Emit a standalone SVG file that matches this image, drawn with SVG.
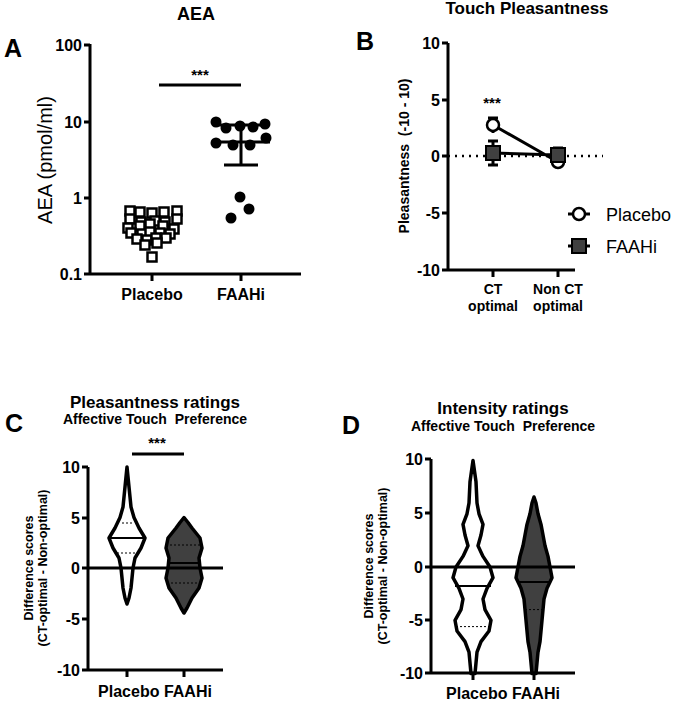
<svg xmlns="http://www.w3.org/2000/svg" width="675" height="704" viewBox="0 0 675 704">
<style>
text{font-family:"Liberation Sans",Arial,sans-serif;font-weight:bold;fill:#000}
.ax{stroke:#000;stroke-width:3;fill:none}
.tk{font-size:16px;text-anchor:end}
.lb{font-size:14px;text-anchor:middle}
.big{font-size:25px}
.tt{font-size:17px;text-anchor:middle}
.st{font-size:14px;text-anchor:middle}
.sq{fill:#fff;stroke:#000;stroke-width:2.5}
.vi{stroke:#000;stroke-width:3.5;stroke-linejoin:round}
.med{stroke:#000;stroke-width:2}
.q{stroke:#000;stroke-width:1;stroke-dasharray:2,2}
</style>
<rect width="675" height="704" fill="#fff"/>
<g id="panelA">
<text x="196" y="20" class="tt" style="font-size:18px">AEA</text>
<text x="4" y="57" class="big">A</text>
<path class="ax" d="M90,44V274H301M84,45H90M84,122H90M84,198H90M84,274H90M152,274V281M241,274V281"/>
<g class="tk"><text x="82" y="51">100</text><text x="82" y="128">10</text><text x="82" y="204">1</text><text x="82" y="280">0.1</text></g>
<text x="152" y="300" class="lb" style="font-size:16px">Placebo</text>
<text x="241" y="300" class="lb" style="font-size:16px">FAAHi</text>
<text transform="translate(52,160) rotate(-90)" style="font-size:20px;font-weight:normal;text-anchor:middle">AEA (pmol/ml)</text>
<path class="ax" d="M159,85H241"/>
<text x="200" y="80" class="lb" style="font-size:15px">***</text>
<g>
<rect class="sq" x="125.5" y="206.5" width="9" height="9"/><rect class="sq" x="135.5" y="207.5" width="9" height="9"/><rect class="sq" x="147.5" y="208.5" width="9" height="9"/><rect class="sq" x="159.5" y="207.5" width="9" height="9"/><rect class="sq" x="172.5" y="206.5" width="9" height="9"/>
<rect class="sq" x="125.5" y="214.5" width="9" height="9"/><rect class="sq" x="136.5" y="217.5" width="9" height="9"/><rect class="sq" x="150.5" y="216.5" width="9" height="9"/><rect class="sq" x="160.5" y="217.5" width="9" height="9"/><rect class="sq" x="172.5" y="214.5" width="9" height="9"/>
<rect class="sq" x="123.5" y="223.5" width="9" height="9"/><rect class="sq" x="135.5" y="221.5" width="9" height="9"/><rect class="sq" x="145.5" y="219.5" width="9" height="9"/><rect class="sq" x="158.5" y="221.5" width="9" height="9"/><rect class="sq" x="169.5" y="224.5" width="9" height="9"/>
<rect class="sq" x="126.5" y="228.5" width="9" height="9"/><rect class="sq" x="137.5" y="229.5" width="9" height="9"/><rect class="sq" x="145.5" y="227.5" width="9" height="9"/><rect class="sq" x="155.5" y="228.5" width="9" height="9"/><rect class="sq" x="165.5" y="229.5" width="9" height="9"/>
<rect class="sq" x="132.5" y="234.5" width="9" height="9"/><rect class="sq" x="142.5" y="235.5" width="9" height="9"/><rect class="sq" x="151.5" y="233.5" width="9" height="9"/><rect class="sq" x="161.5" y="233.5" width="9" height="9"/>
<rect class="sq" x="140.5" y="240.5" width="9" height="9"/><rect class="sq" x="152.5" y="238.5" width="9" height="9"/>
<rect class="sq" x="147.5" y="252.5" width="9" height="9"/>
</g>
<g fill="#000">
<circle cx="216" cy="122" r="5.5"/><circle cx="226" cy="128" r="5.5"/><circle cx="240" cy="126" r="5.5"/><circle cx="253" cy="127" r="5.5"/><circle cx="265" cy="124" r="5.5"/>
<circle cx="216" cy="143" r="5.5"/><circle cx="233" cy="145" r="5.5"/><circle cx="250" cy="145" r="5.5"/><circle cx="266" cy="138" r="5.5"/>
<circle cx="240" cy="197" r="5.5"/><circle cx="249" cy="209" r="5.5"/><circle cx="231" cy="218" r="5.5"/>
</g>
<path class="ax" d="M241,125V165M214,125H268M212,142H270M224,165H258"/>
</g>
<g id="panelB">
<text x="527" y="14" class="tt">Touch Pleasantness</text>
<text x="356" y="50" class="big">B</text>
<path class="ax" d="M448,43V270H575M442,43H448M442,100H448M442,156H448M442,213H448M442,270H448M493,270V277M558,270V277"/>
<g class="tk"><text x="440" y="49">10</text><text x="440" y="106">5</text><text x="440" y="162">0</text><text x="440" y="219">-5</text><text x="440" y="276">-10</text></g>
<path d="M448,156H603" stroke="#000" stroke-width="2.5" stroke-dasharray="2,5"/>
<text transform="translate(409,156) rotate(-90)" class="lb" style="font-size:14px" xml:space="preserve">Pleasantness  (-10 - 10)</text>
<text x="493" y="294" class="lb">CT</text><text x="493" y="311" class="lb">optimal</text>
<text x="558" y="294" class="lb">Non CT</text><text x="558" y="311" class="lb">optimal</text>
<text x="492" y="108" class="lb" style="font-size:15px">***</text>
<path class="ax" d="M493,118V133M488,118H498M493,141V165M488,141H498M488,165H498M558,148V162M553,148H563M493,125L558,162M493,153L558,155"/>
<circle cx="493" cy="125" r="6" class="sq"/>
<rect x="486" y="146" width="14" height="14" fill="#404040" stroke="#000" stroke-width="2"/>
<circle cx="558" cy="162" r="6" class="sq"/>
<rect x="551" y="148" width="14" height="14" fill="#404040" stroke="#000" stroke-width="2"/>
<path class="ax" d="M568,214H590M568,246H590"/>
<circle cx="579" cy="214" r="6" class="sq"/>
<rect x="572" y="239" width="14" height="14" fill="#404040" stroke="#000" stroke-width="2"/>
<text x="606" y="221" style="font-size:18px;font-weight:normal">Placebo</text>
<text x="606" y="253" style="font-size:18px;font-weight:normal">FAAHi</text>
</g>
<g id="panelC">
<text x="155" y="408" class="tt">Pleasantness ratings</text>
<text x="155" y="424" class="st" xml:space="preserve">Affective Touch  Preference</text>
<text x="5" y="432" class="big">C</text>
<path class="ax" d="M132,454H184"/>
<text x="157" y="448" class="lb" style="font-size:15px">***</text>
<path d="M127,467L129,487L131,507L134,517.5L139,528L145,538L141,548L135,558L133,568L132,578L131,588L129,598L127,604L125,598L123,588L122,578L121,568L119,558L113,548L109,538L115,528L120,517.5L123,507L125,487Z" class="vi" fill="#fff"/>
<path class="med" d="M110,538H144"/><path class="q" d="M122,523H132M117,553H137"/>
<path d="M184,517.5L188,522.5L192,528L200,538L202,548L199,558L200,568L202,578L199,588L192,598L187,608L184,613L181,608L176,598L169,588L166,578L168,568L169,558L166,548L168,538L176,528L180,522.5Z" class="vi" fill="#404040"/>
<path class="med" d="M168,563H200"/><path class="q" d="M166,545H202M167,583H201"/>
<path class="ax" d="M88,467V670H223M82,467H88M82,518H88M82,568H88M82,619H88M82,670H88M127,670V677M184,670V677M88,568H223"/>
<g class="tk"><text x="80" y="473">10</text><text x="80" y="524">5</text><text x="80" y="574">0</text><text x="80" y="625">-5</text><text x="80" y="676">-10</text></g>
<text transform="translate(33,568) rotate(-90)" class="lb" style="font-size:12.5px">Difference scores</text>
<text transform="translate(47,568) rotate(-90)" class="lb" style="font-size:12.5px">(CT-optimal - Non-optimal)</text>
<text x="155" y="697" class="lb" style="font-size:16px">Placebo FAAHi</text>
</g>
<g id="panelD">
<text x="503" y="414" class="tt">Intensity ratings</text>
<text x="503" y="431" class="st" xml:space="preserve">Affective Touch  Preference</text>
<text x="342" y="434" class="big">D</text>
<path d="M473,460.5L476,481.8L477,503L479,513.8L483,524.4L481,535L478,545.7L483,556.4L490,567L493,577.7L487,588.3L483,599L485,609.6L491,620.3L489,631L481,641.6L477,652.2L476,662.9L475,673.5L471,673.5L470,662.9L469,652.2L465,641.6L457,631L455,620.3L461,609.6L463,599L459,588.3L453,577.7L456,567L463,556.4L468,545.7L465,535L463,524.4L467,513.8L469,503L470,481.8Z" class="vi" fill="#fff"/>
<path class="med" d="M455,586H491"/><path class="q" d="M457,567H489M456,626.6H490"/>
<path d="M534,497L536,503L538,513.8L541,524.4L543,535L545,545.7L548,556.4L550,567L552,577.7L547,588.3L544,599L543,609.6L542,620.3L541,631L540,641.6L538,652.2L537,662.9L536,673.5L532,673.5L531,662.9L530,652.2L528,641.6L527,631L526,620.3L525,609.6L524,599L521,588.3L516,577.7L518,567L520,556.4L523,545.7L525,535L527,524.4L530,513.8L532,503Z" class="vi" fill="#404040"/>
<path class="med" d="M518,582H550"/><path class="q" d="M518,567H550M525,609.6H543"/>
<path class="ax" d="M431,459V673H575M425,459H431M425,513H431M425,567H431M425,620H431M425,673H431M473,673V680M534,673V680M431,567H575"/>
<g class="tk"><text x="423" y="465">10</text><text x="423" y="519">5</text><text x="423" y="573">0</text><text x="423" y="626">-5</text><text x="423" y="679">-10</text></g>
<text transform="translate(373,566) rotate(-90)" class="lb" style="font-size:12.5px">Difference scores</text>
<text transform="translate(387,566) rotate(-90)" class="lb" style="font-size:12.5px">(CT-optimal - Non-optimal)</text>
<text x="503" y="699" class="lb" style="font-size:16px">Placebo FAAHi</text>
</g>
</svg>
